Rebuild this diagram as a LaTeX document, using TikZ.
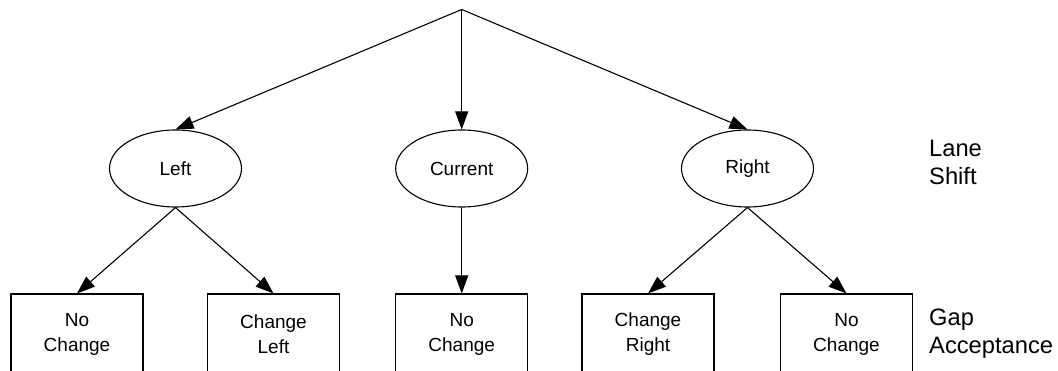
\documentclass[tikz,border=0pt]{standalone}
\usepackage{fontspec}
\setmainfont{Liberation Sans}
\usetikzlibrary{shapes.geometric,arrows.meta}
\tikzset{
  lane/.style={ellipse,draw,line width=1.1pt,inner sep=0pt,minimum width=132pt,minimum height=77pt,font=\fontsize{19}{25}\selectfont},
  gapbox/.style={rectangle,draw,line width=1.1pt,inner sep=0pt,minimum width=132pt,minimum height=80pt,align=center,font=\fontsize{19}{25}\selectfont},
  conn/.style={line width=1.1pt,-{Triangle[length=18pt,width=13pt]}},
  side/.style={anchor=west,align=left,inner sep=0pt,font=\fontsize{23.7}{28}\selectfont}
}
\begin{document}
\begin{tikzpicture}[x=1pt,y=-1pt]
\clip (0,0) rectangle (1058,371);
\coordinate (top) at (461.7,9.5);
\node[lane] (left) at (175.5,168.5) {Left};
\node[lane] (current) at (461.7,168.5) {Current};
\node[lane] (right) at (747.5,168.5) {Right};
\node[gapbox] (b1) at (77,334) {No\\Change};
\node[gapbox] (b2) at (273.5,334) {Change\\Left};
\node[gapbox] (b3) at (461.7,334) {No\\Change};
\node[gapbox] (b4) at (648,334) {Change\\Right};
\node[gapbox] (b5) at (846.5,334) {No\\Change};
\node[side] (lane) at (929,162) {Lane\\Shift};
\node[side] (gap) at (929,334) {Gap\\Acceptance};
\draw[conn] (top) -- (left.north);
\draw[conn] (top) -- (current.north);
\draw[conn] (top) -- (right.north);
\draw[conn] (left.south) -- (b1.north);
\draw[conn] (left.south) -- (b2.north);
\draw[conn] (current.south) -- (b3.north);
\draw[conn] (right.south) -- (b4.north);
\draw[conn] (right.south) -- (b5.north);
\end{tikzpicture}
\end{document}
